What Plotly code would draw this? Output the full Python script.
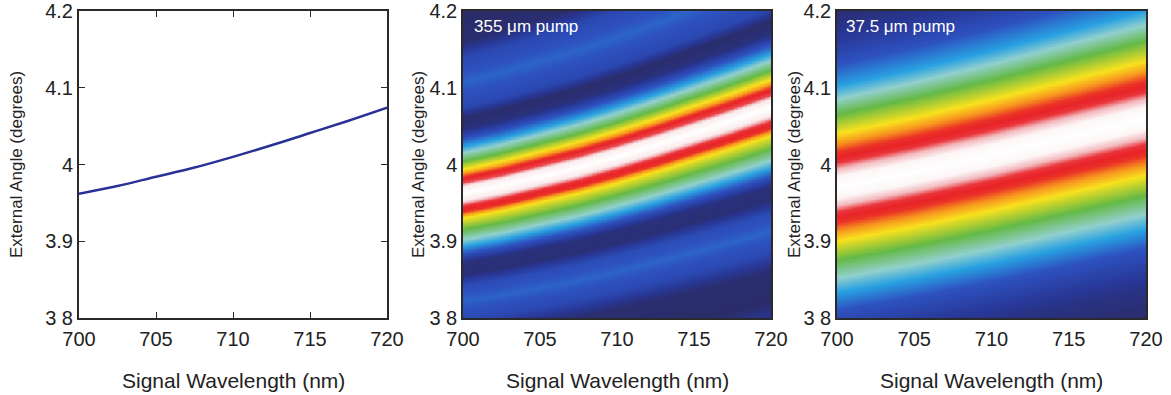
import numpy as np
import plotly.graph_objects as go

W, H = 1171, 395

# ---------------- data ----------------
x_ticks = [700, 705, 710, 715, 720]
x_ticklabels = ["700", "705", "710", "715", "720"]
y_ticks = [3.8, 3.9, 4.0, 4.1, 4.2]
y_ticklabels = ["3 8", "3.9", "4", "4.1", "4.2"]

# phase-matching angle vs signal wavelength (panel 1, also the band centre of panel 2)
wl_nodes = [700, 702.5, 705, 707.5, 710, 712.5, 715, 717.5, 720]
angle_nodes = [3.962, 3.972, 3.984, 3.996, 4.010, 4.025, 4.041, 4.057, 4.074]
# band centre seen in panel 3
angle_nodes_c = [3.970, 3.980, 3.990, 4.001, 4.012, 4.024, 4.036, 4.048, 4.060]
# relative band width across wavelength (panel 2 band widens slightly to the right)
width_wl = [700, 710, 720]
width_355 = [1.0, 1.07, 1.15]
width_375 = [1.0, 1.03, 1.06]

# colour level across the band (offset from band centre in degrees) - 355 um pump
prof_355_off = [-0.30, -0.27, -0.245, -0.22, -0.185, -0.165, -0.14, -0.12, -0.105, -0.090,
                -0.078, -0.069, -0.060, -0.047, -0.032, -0.024, -0.016, -0.009, 0.0, 0.009,
                0.014, 0.022, 0.030, 0.042, 0.053, 0.061, 0.071, 0.084, 0.098, 0.112,
                0.145, 0.178, 0.197, 0.23, 0.26, 0.29, 0.40]
prof_355_lvl = [0.12, 0.22, 0.16, 0.02, 0.04, 0.20, 0.28, 0.22, 0.05, 0.06,
                0.25, 0.38, 0.48, 0.58, 0.70, 0.84, 0.86, 0.98, 1.0, 0.98,
                0.87, 0.84, 0.72, 0.58, 0.48, 0.38, 0.25, 0.06, 0.03, 0.20,
                0.28, 0.20, 0.04, 0.02, 0.12, 0.18, 0.12]
# 37.5 um pump
prof_375_off = [-0.40, -0.25, -0.21, -0.19, -0.16, -0.137, -0.118, -0.095, -0.070, -0.057,
                -0.046, -0.032, -0.024, -0.014, 0.0, 0.014, 0.024, 0.032, 0.046, 0.057,
                0.070, 0.095, 0.115, 0.132, 0.16, 0.19, 0.22, 0.25, 0.40]
prof_375_lvl = [0.0, 0.02, 0.08, 0.14, 0.25, 0.38, 0.48, 0.58, 0.70, 0.78,
                0.84, 0.86, 0.93, 0.99, 1.0, 0.99, 0.93, 0.86, 0.84, 0.78,
                0.70, 0.58, 0.48, 0.38, 0.25, 0.14, 0.06, 0.02, 0.0]

colorscale = [
    [0.00, "rgb(43,42,94)"],
    [0.12, "rgb(40,55,150)"],
    [0.25, "rgb(45,82,192)"],
    [0.38, "rgb(40,160,225)"],
    [0.48, "rgb(145,208,205)"],
    [0.58, "rgb(100,185,70)"],
    [0.70, "rgb(248,225,30)"],
    [0.78, "rgb(247,150,30)"],
    [0.85, "rgb(232,35,40)"],
    [0.93, "rgb(242,185,190)"],
    [1.00, "rgb(255,255,255)"],
]

# ---------------- build heatmap grids ----------------
xg = np.linspace(700, 720, 241)
yg = np.linspace(3.8, 4.2, 401)
XX, YY = np.meshgrid(xg, yg)
c2 = np.interp(XX, wl_nodes, angle_nodes)
c3 = np.interp(XX, wl_nodes, angle_nodes_c)
s2 = np.interp(XX, width_wl, width_355)
s3 = np.interp(XX, width_wl, width_375)
z2 = np.interp((YY - c2) / s2, prof_355_off, prof_355_lvl)
z3 = np.interp((YY - c3) / s3, prof_375_off, prof_375_lvl)

fig = go.Figure()
fig.add_trace(go.Scatter(x=wl_nodes, y=angle_nodes, mode="lines",
                         line=dict(color="rgb(40,50,150)", width=2.5, shape="spline"),
                         xaxis="x", yaxis="y", showlegend=False))
fig.add_trace(go.Heatmap(x=xg, y=yg, z=z2, colorscale=colorscale, zmin=0, zmax=1,
                         showscale=False, xaxis="x2", yaxis="y2"))
fig.add_trace(go.Heatmap(x=xg, y=yg, z=z3, colorscale=colorscale, zmin=0, zmax=1,
                         showscale=False, xaxis="x3", yaxis="y3"))

font_family = "Liberation Sans, Arial, sans-serif"
tick_font = dict(family=font_family, size=20, color="#222222")

def px(a, b):
    return [a / W, b / W]

ydom = [1 - 318 / H, 1 - 11 / H]
panels = [(79, 387), (463, 771), (837, 1146)]

layout = dict(
    width=W, height=H,
    margin=dict(l=0, r=0, t=0, b=0),
    paper_bgcolor="white", plot_bgcolor="white",
    showlegend=False,
)
for i, (a, b) in enumerate(panels):
    sx = "" if i == 0 else str(i + 1)
    is_line = (i == 0)
    layout["xaxis" + sx] = dict(
        domain=px(a, b), range=[700, 720], anchor="y" + sx, automargin=False,
        tickvals=x_ticks, ticktext=x_ticklabels, tickfont=tick_font,
        showline=True, linecolor="#2a2a2a", linewidth=2 if is_line else 1.5, mirror="ticks" if is_line else True,
        ticks="inside" if is_line else "", ticklen=6, tickcolor="#2a2a2a", tickwidth=1,
        showgrid=False, zeroline=False, ticklabelstandoff=2,
    )
    layout["yaxis" + sx] = dict(
        domain=ydom, range=[3.8, 4.2], anchor="x" + sx, automargin=False,
        tickvals=y_ticks, ticktext=y_ticklabels, tickfont=tick_font,
        showline=True, linecolor="#2a2a2a", linewidth=2 if is_line else 1.5, mirror="ticks" if is_line else True,
        ticks="inside" if is_line else "", ticklen=6, tickcolor="#2a2a2a", tickwidth=1,
        showgrid=False, zeroline=False,
    )

annotations = []
ytitle_x = [16, 418, 794]
for i, (a, b) in enumerate(panels):
    annotations.append(dict(text="External Angle (degrees)", textangle=-90,
                            x=ytitle_x[i] / W, y=1 - 165 / H, xref="paper", yref="paper",
                            showarrow=False, xanchor="center", yanchor="middle",
                            font=dict(family=font_family, size=17, color="#222222")))
    annotations.append(dict(text="Signal Wavelength (nm)",
                            x=(a + b) / 2 / W, y=1 - 380 / H, xref="paper", yref="paper",
                            showarrow=False, xanchor="center", yanchor="middle",
                            font=dict(family=font_family, size=21, color="#222222")))
annotations.append(dict(text="355 μm pump", x=472 / W, y=1 - 26 / H, xref="paper", yref="paper",
                        showarrow=False, xanchor="left", yanchor="middle",
                        font=dict(family=font_family, size=17, color="white")))
annotations.append(dict(text="37.5 μm pump", x=844 / W, y=1 - 26 / H, xref="paper", yref="paper",
                        showarrow=False, xanchor="left", yanchor="middle",
                        font=dict(family=font_family, size=17, color="white")))
layout["annotations"] = annotations

fig.update_layout(**layout)
fig.write_html("out.html", config={"displayModeBar": False},
               post_script="document.body.style.margin='0px';")
